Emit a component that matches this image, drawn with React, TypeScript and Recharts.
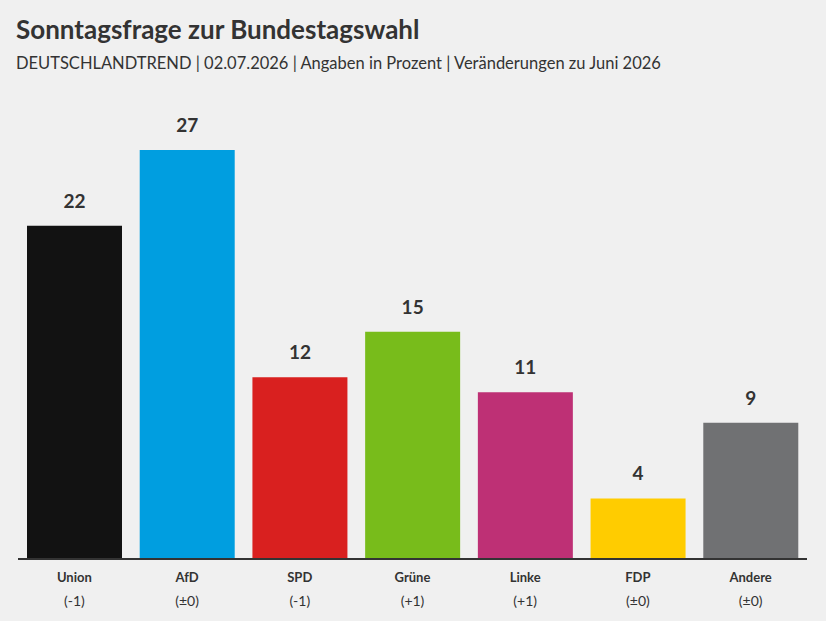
import { BarChart, Bar, XAxis, YAxis, Cell, LabelList } from 'recharts';

const parties = ['Union', 'AfD', 'SPD', 'Grüne', 'Linke', 'FDP', 'Andere'];
const shares = [22, 27, 12, 15, 11, 4, 9];
const changes = ['(-1)', '(±0)', '(-1)', '(+1)', '(+1)', '(±0)', '(±0)'];
const COLORS = ['#121212', '#009ee0', '#d9201f', '#78bc1b', '#be3075', '#ffcc00', '#707173'];

const data = parties.map((party, i) => ({ party, share: shares[i], change: changes[i] }));

const FONT = 'Lato, "Noto Sans", sans-serif';

const PartyTick = (props: any) => {
  const { x, y, payload, index } = props;
  return (
    <g>
      <text x={x} y={y + 15} textAnchor="middle" fontSize={13} fontWeight="bold" fill="#333" fontFamily={FONT}>
        {payload.value}
      </text>
      <text x={x} y={y + 39} textAnchor="middle" fontSize={14} fill="#333" fontFamily={FONT}>
        {changes[index]}
      </text>
    </g>
  );
};

const App = () => {
  return (
    <div
      style={{
        position: 'absolute',
        top: 0,
        left: 0,
        width: 826,
        height: 621,
        background: '#f0f0f0',
        fontFamily: FONT,
        color: '#333',
      }}
    >
      <div style={{ position: 'absolute', left: 16, top: 12, fontSize: 26, fontWeight: 'bold', lineHeight: '34px' }}>
        Sonntagsfrage zur Bundestagswahl
      </div>
      <div style={{ position: 'absolute', left: 16, top: 52, fontSize: 16.5, lineHeight: '22px' }}>
        DEUTSCHLANDTREND | 02.07.2026 | Angaben in Prozent | Veränderungen zu Juni 2026
      </div>
      <BarChart
        width={826}
        height={621}
        data={data}
        margin={{ top: 150, right: 19, left: 18, bottom: 0 }}
        barSize={95}
      >
        <XAxis
          dataKey="party"
          axisLine={{ stroke: '#333', strokeWidth: 2 }}
          tickLine={false}
          height={62}
          interval={0}
          tick={<PartyTick />}
        />
        <YAxis hide domain={[0, 27]} />
        <Bar dataKey="share" isAnimationActive={false}>
          {data.map((_, index) => (
            <Cell key={index} fill={COLORS[index]} />
          ))}
          <LabelList
            dataKey="share"
            position="top"
            offset={18}
            fill="#333"
            fontSize={19}
            fontWeight="bold"
            fontFamily={FONT}
          />
        </Bar>
      </BarChart>
    </div>
  );
};

export default App;
